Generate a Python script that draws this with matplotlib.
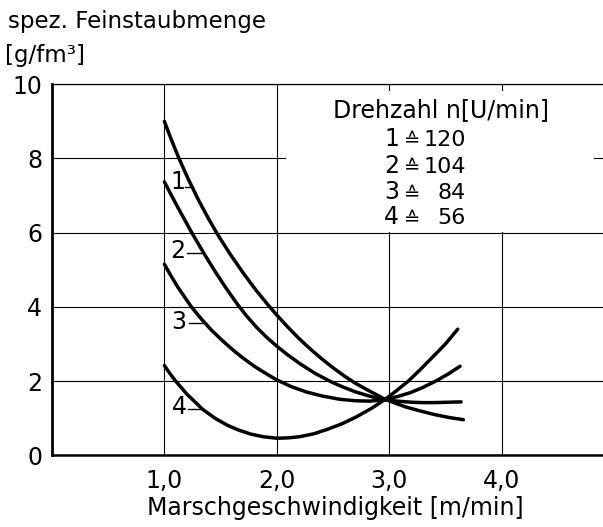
import matplotlib
matplotlib.use('Agg')
from matplotlib import pyplot as plt
from matplotlib.patches import Rectangle

# Feinstaubmenge vs Marschgeschwindigkeit
x1 = [1.0, 1.06, 1.13, 1.21, 1.3, 1.39, 1.48, 1.59, 1.7, 1.81, 1.92, 2.0, 2.1, 2.2, 2.3, 2.4, 2.5,
      2.6, 2.7, 2.82, 2.95, 3.05, 3.15, 3.27, 3.4, 3.53, 3.66]
y1 = [9.0, 8.52, 8.0, 7.46, 6.9, 6.39, 5.92, 5.4, 4.92, 4.47, 4.06, 3.78, 3.45, 3.14, 2.86, 2.6, 2.36,
      2.14, 1.94, 1.74, 1.53, 1.41, 1.3, 1.2, 1.1, 1.02, 0.96]

x2 = [1.0, 1.06, 1.12, 1.24, 1.35, 1.45, 1.55, 1.65, 1.73, 1.82, 1.91, 2.0, 2.1, 2.21, 2.34, 2.47,
      2.58, 2.7, 2.83, 2.95, 3.07, 3.2, 3.3, 3.4, 3.52, 3.64]
y2 = [7.37, 7.02, 6.68, 6.02, 5.45, 4.96, 4.5, 4.07, 3.76, 3.45, 3.18, 2.94, 2.7, 2.46, 2.21, 2.0,
      1.85, 1.71, 1.59, 1.5, 1.46, 1.43, 1.42, 1.42, 1.43, 1.44]

x3 = [1.0, 1.06, 1.12, 1.24, 1.33, 1.42, 1.52, 1.61, 1.7, 1.8, 1.9, 2.0, 2.13, 2.26, 2.4, 2.56,
      2.7, 2.83, 2.95, 3.07, 3.19, 3.3, 3.42, 3.53, 3.63]
y3 = [5.15, 4.83, 4.53, 4.0, 3.67, 3.37, 3.08, 2.84, 2.62, 2.4, 2.21, 2.03, 1.85, 1.71, 1.6, 1.51,
      1.47, 1.46, 1.5, 1.58, 1.69, 1.83, 2.01, 2.2, 2.4]

x4 = [1.0, 1.05, 1.10, 1.2, 1.34, 1.45, 1.56, 1.66, 1.77, 1.88, 2.0, 2.1, 2.2, 2.33, 2.45, 2.58,
      2.71, 2.84, 2.96, 3.06, 3.17, 3.28, 3.4, 3.5, 3.61]
y4 = [2.42, 2.2, 2.0, 1.65, 1.24, 1.0, 0.81, 0.68, 0.57, 0.5, 0.46, 0.47, 0.5, 0.58, 0.70, 0.85,
      1.04, 1.26, 1.5, 1.73, 2.0, 2.32, 2.69, 3.0, 3.4]

curve_ids = ['1', '2', '3', '4']
drehzahl = [120, 104, 84, 56]

xticks = [1, 2, 3, 4]
xticklabels = ['1,0', '2,0', '3,0', '4,0']
yticks = [0, 2, 4, 6, 8, 10]

# where the curve numbers sit (label x,y ; leader x0,x1,y)
label_pos = [(1.12, 7.36), (1.12, 5.5), (1.13, 3.58), (1.13, 1.30)]
leaders = [(1.18, 1.25, 7.22), (1.20, 1.33, 5.46), (1.22, 1.37, 3.56), (1.21, 1.34, 1.24)]

fig = plt.figure(figsize=(6.03, 5.27), dpi=100)
ax = fig.add_axes([52 / 603, 71.7 / 527, 551 / 603, 371 / 527])
ax.set_xlim(0, 551 / 112.4)
ax.set_ylim(0, 10)

ax.set_xticks(xticks)
ax.set_xticklabels(xticklabels)
ax.set_yticks(yticks)
ax.tick_params(length=0, labelsize=17, colors='black')
ax.tick_params(axis='y', pad=7)
ax.tick_params(axis='x', pad=10)
ax.grid(True, color='black', lw=0.8)
ax.set_axisbelow(True)

ax.spines['right'].set_visible(False)
ax.spines['left'].set_linewidth(2.0)
ax.spines['bottom'].set_linewidth(1.8)
ax.spines['top'].set_linewidth(0.9)

# white area behind the legend text
ax.add_patch(Rectangle((2.08, 6.03), 2.74, 3.8, facecolor='white', edgecolor='none', zorder=1))

for xs, ys in [(x1, y1), (x2, y2), (x3, y3), (x4, y4)]:
    ax.plot(xs, ys, color='black', lw=2.5, solid_capstyle='round', solid_joinstyle='round', zorder=3)

for cid, (lx, ly), (a, b, ly2) in zip(curve_ids, label_pos, leaders):
    ax.text(lx, ly, cid, fontsize=17, ha='center', va='center', zorder=4)
    ax.plot([a, b], [ly2, ly2], color='black', lw=1.0, zorder=3)

ax.text(2.50, 9.12, 'Drehzahl n[U/min]', fontsize=17, ha='left', va='baseline', zorder=4)
base_y = [8.34, 7.62, 6.90, 6.23]
for cid, n, by in zip(curve_ids, drehzahl, base_y):
    ax.text(3.02, by, cid, fontsize=17, ha='center', va='baseline', zorder=4)
    ax.text(3.205, by, '\u2259', fontsize=14, ha='center', va='baseline', zorder=4)
    ax.text(3.68, by, str(n), fontsize=16, ha='right', va='baseline', zorder=4)

fig.text(8 / 603, 1 - 28 / 527, 'spez. Feinstaubmenge', fontsize=16.5, ha='left', va='baseline')
fig.text(5 / 603, 1 - 62 / 527, '[g/fm\u00b3]', fontsize=16.5, ha='left', va='baseline')
fig.text(335 / 603, 1 - 515 / 527, 'Marschgeschwindigkeit [m/min]', fontsize=17, ha='center', va='baseline')

fig.savefig('out.png', dpi=100)
